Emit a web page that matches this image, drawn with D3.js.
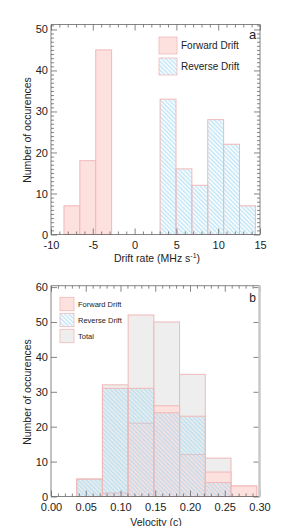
<!DOCTYPE html>
<html><head><meta charset="utf-8">
<script src="https://cdn.jsdelivr.net/npm/d3@7"></script>
<style>
body{margin:0;background:#fff;}
svg{display:block;font-family:"Liberation Sans",Arial,Helvetica,sans-serif;}
</style></head><body>
<div id="chart"></div>
<script>
// ---- panel a: drift rate ----
const fwdDriftEdges = [-8.45, -6.55, -4.65, -2.75];
const fwdDriftCounts = [7, 18, 45];
const revDriftEdges = [3.05, 4.95, 6.85, 8.75, 10.65, 12.55, 14.45];
const revDriftCounts = [33, 16, 12, 28, 22, 7];
const driftTicks = [-10, -5, 0, 5, 10, 15];
const driftCountTicks = [0, 10, 20, 30, 40, 50];

// ---- panel b: velocity ----
const velEdges = [0.037, 0.074, 0.111, 0.148, 0.185, 0.222, 0.259, 0.296];
const velTotal = [5, 32, 52, 50, 35, 11, 3];
const velFwd = [0, 1, 21, 26, 12, 7, 3];
const velRev = [5, 31, 31, 24, 23, 4, 0];
const velTicks = [0, 0.05, 0.10, 0.15, 0.20, 0.25, 0.30];
const velCountTicks = [0, 10, 20, 30, 40, 50, 60];

const pinkFill = "#fde1df", pinkLine = "#f1b8b8", grayFill = "#eeeeee",
      hatchBlue = "#a2d8f1", axisCol = "#666", textCol = "#222";

const W = 302, H = 526;
const svg = d3.select("#chart").append("svg").attr("width", W).attr("height", H);

const defs = svg.append("defs");
const pat = defs.append("pattern")
  .attr("id", "hatch").attr("patternUnits", "userSpaceOnUse")
  .attr("width", 3).attr("height", 3)
  .attr("patternTransform", "rotate(-45)");
pat.append("line").attr("x1", 0.8).attr("y1", 0).attr("x2", 0.8).attr("y2", 3)
  .attr("stroke", hatchBlue).attr("stroke-width", 1);

function bars(g, x, y, edges, counts, fill) {
  const data = counts.map((c, i) => ({ x0: edges[i], x1: edges[i + 1], c })).filter(d => d.c > 0);
  g.append("g").selectAll("rect").data(data).join("rect")
    .attr("x", d => x(d.x0)).attr("width", d => x(d.x1) - x(d.x0))
    .attr("y", d => y(d.c)).attr("height", d => y(0) - y(d.c))
    .attr("fill", fill).attr("stroke", pinkLine).attr("stroke-width", 1);
}

function styleAxis(sel) {
  sel.select(".domain").remove();
  sel.selectAll("line").attr("stroke", axisCol).attr("stroke-width", 0.8);
  sel.selectAll("text").attr("fill", textCol).attr("font-size", "11px");
}

function frame(g, x, y, o) {
  const [x0, x1] = x.range(), [y0, y1] = y.range();
  const put = (axis, tx, ty) => g.append("g").attr("transform", `translate(${tx},${ty})`).call(axis).call(styleAxis);
  // majors
  put(d3.axisBottom(x).tickValues(o.xMajor).tickSize(-6).tickSizeOuter(0).tickPadding(7).tickFormat(o.xFmt), 0, y0);
  put(d3.axisTop(x).tickValues(o.xMajor).tickSize(-6).tickSizeOuter(0).tickFormat(""), 0, y1);
  put(d3.axisLeft(y).tickValues(o.yMajor).tickSize(-6).tickSizeOuter(0).tickPadding(3), x0, 0);
  put(d3.axisRight(y).tickValues(o.yMajor).tickSize(-6).tickSizeOuter(0).tickFormat(""), x1, 0);
  // minors
  put(d3.axisBottom(x).tickValues(o.xMinor).tickSize(-3).tickSizeOuter(0).tickFormat(""), 0, y0);
  put(d3.axisTop(x).tickValues(o.xMinor).tickSize(-3).tickSizeOuter(0).tickFormat(""), 0, y1);
  if (o.yMinor) {
    put(d3.axisLeft(y).tickValues(o.yMinor).tickSize(-3).tickSizeOuter(0).tickFormat(""), x0, 0);
    put(d3.axisRight(y).tickValues(o.yMinor).tickSize(-3).tickSizeOuter(0).tickFormat(""), x1, 0);
  }
  g.append("path").attr("d", `M${x1},${y1}H${x0}V${y0}H${x1}`)
    .attr("fill", "none").attr("stroke", axisCol).attr("stroke-width", 0.8);
  g.append("line").attr("x1", x1).attr("x2", x1).attr("y1", y1).attr("y2", y0)
    .attr("stroke", o.rightCol).attr("stroke-width", o.rightW);
}

function yTitle(g, cx, cy) {
  g.append("text").attr("transform", `translate(${cx},${cy}) rotate(-90)`)
    .attr("text-anchor", "middle").attr("dominant-baseline", "central")
    .attr("font-size", "10.5px").attr("fill", textCol).text("Number of occurences");
}

function legend(g, items, x, ys, w, h, fs) {
  items.forEach((it, i) => {
    g.append("rect").attr("x", x).attr("y", ys[i]).attr("width", w).attr("height", h)
      .attr("fill", it.fill).attr("stroke", pinkLine).attr("stroke-width", 0.8);
    g.append("text").attr("x", x + w + 4).attr("y", ys[i] + h / 2)
      .attr("dominant-baseline", "central").attr("font-size", fs).attr("fill", textCol).text(it.label);
  });
}

// ===== panel a =====
{
  const g = svg.append("g");
  const x = d3.scaleLinear().domain([-10, 15]).range([51, 260]);
  const y = d3.scaleLinear().domain([0, 51.2]).range([234.5, 24.5]);
  bars(g, x, y, fwdDriftEdges, fwdDriftCounts, pinkFill);
  bars(g, x, y, revDriftEdges, revDriftCounts, "url(#hatch)");
  frame(g, x, y, {
    xMajor: driftTicks, xMinor: d3.range(-10, 15.5, 1).filter(v => v % 5 !== 0),
    yMajor: driftCountTicks, yMinor: d3.range(0, 51.5, 1).filter(v => v % 10 !== 0),
    xFmt: d => String(d), rightCol: axisCol, rightW: 0.8
  });
  yTitle(g, 27, 130);
  const t = g.append("text").attr("x", 157).attr("y", 262).attr("text-anchor", "middle")
    .attr("font-size", "10.5px").attr("fill", textCol).text("Drift rate (MHz s");
  t.append("tspan").attr("font-size", "7px").attr("dy", -4).text("-1");
  t.append("tspan").attr("dy", 4).text(")");
  legend(g, [{ label: "Forward Drift", fill: pinkFill }, { label: "Reverse Drift", fill: "url(#hatch)" }],
    159, [37, 58], 18, 17, "10px");
  g.append("text").attr("x", 252.5).attr("y", 38.5).attr("text-anchor", "middle")
    .attr("font-size", "13px").attr("fill", textCol).text("a");
}

// ===== panel b =====
{
  const g = svg.append("g");
  const x = d3.scaleLinear().domain([0, 0.30]).range([51, 259.5]);
  const y = d3.scaleLinear().domain([0, 60.4]).range([496.5, 285.7]);
  bars(g, x, y, velEdges, velTotal, grayFill);
  bars(g, x, y, velEdges, velFwd, pinkFill);
  bars(g, x, y, velEdges, velRev, "url(#hatch)");
  frame(g, x, y, {
    xMajor: velTicks, xMinor: d3.range(0, 31, 1).filter(v => v % 5 !== 0).map(v => v / 100),
    yMajor: velCountTicks, yMinor: null,
    xFmt: d3.format(".2f"), rightCol: "#c8c8c8", rightW: 2.5
  });
  yTitle(g, 27, 392);
  g.append("text").attr("x", 156).attr("y", 525.5).attr("text-anchor", "middle")
    .attr("font-size", "10.5px").attr("fill", textCol).text("Velocity (c)");
  legend(g, [{ label: "Forward Drift", fill: pinkFill }, { label: "Reverse Drift", fill: "url(#hatch)" },
    { label: "Total", fill: grayFill }], 60, [297.3, 313.3, 329.3], 14, 13.4, "7.5px");
  g.append("text").attr("x", 252.5).attr("y", 301.5).attr("text-anchor", "middle")
    .attr("font-size", "12px").attr("fill", textCol).text("b");
}
</script>
</body></html>
